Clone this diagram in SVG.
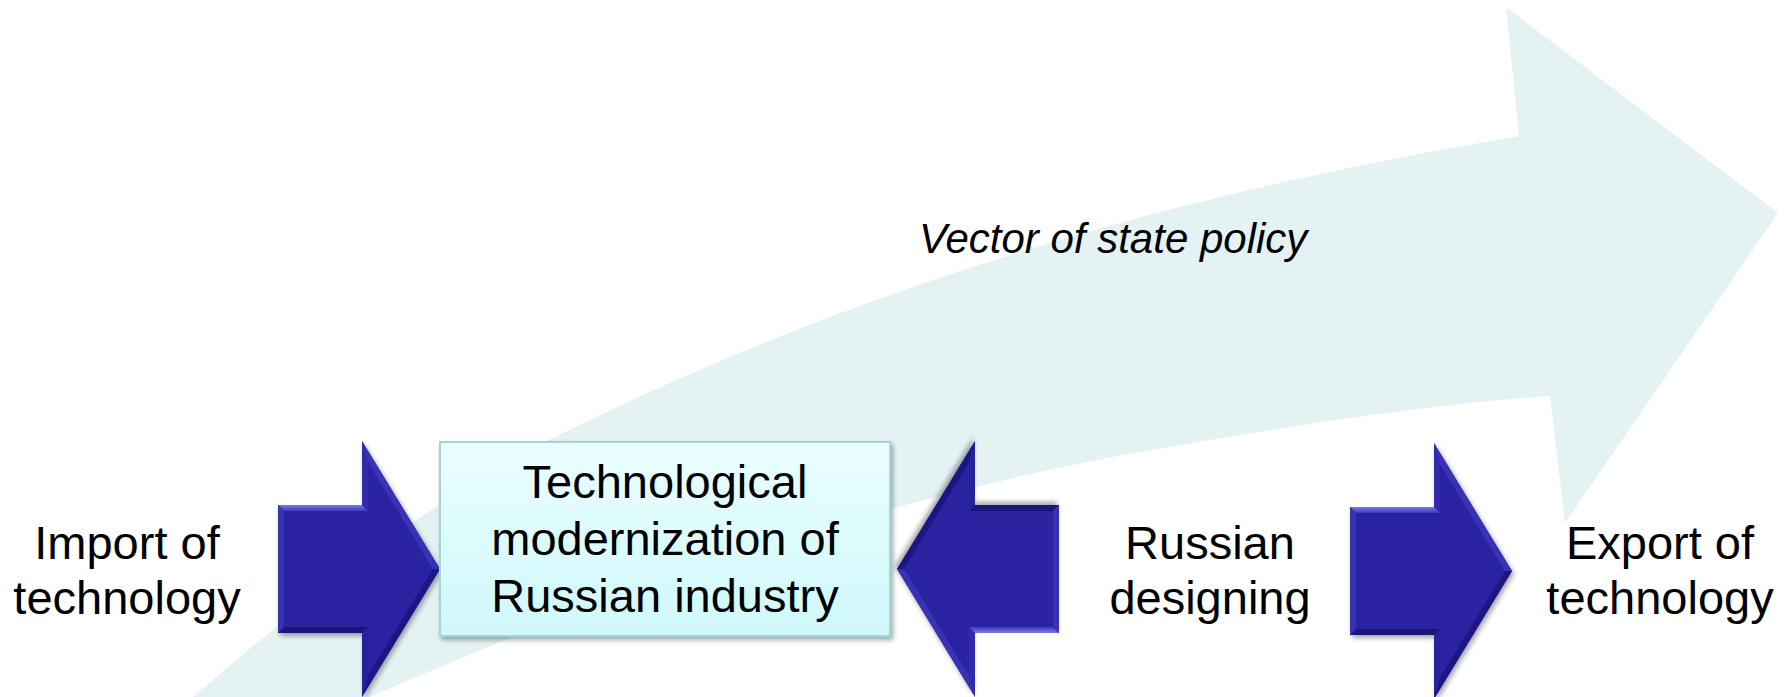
<svg xmlns="http://www.w3.org/2000/svg" xmlns:xlink="http://www.w3.org/1999/xlink" width="1789" height="697" viewBox="0 0 1789 697">
  <style>
    .lbl { font-family: "Liberation Sans", Arial, sans-serif; font-size: 47px; fill: #000; text-anchor: middle; }
    .vec { font-family: "Liberation Sans", Arial, sans-serif; font-size: 42px; font-style: italic; fill: #000; }
  </style>
  <defs>
    <linearGradient id="boxGrad" x1="0" y1="0" x2="0" y2="1">
      <stop offset="0" stop-color="#EBFEFF"/>
      <stop offset="1" stop-color="#CFF8FB"/>
    </linearGradient>
    <linearGradient id="topBevel" x1="0" y1="0" x2="0" y2="1">
      <stop offset="0" stop-color="#7A7AE8"/>
      <stop offset="1" stop-color="#3C36BC"/>
    </linearGradient>
    <filter id="shadow" x="-10%" y="-10%" width="130%" height="130%">
      <feDropShadow dx="2" dy="3" stdDeviation="2.5" flood-color="#000" flood-opacity="0.35"/>
    </filter>
    <g id="blueArrow">
      <polygon points="0,-64 84,-64 84,-128 162,0 84,128 84,64 0,64" fill="#2A22A0"/>
      <polygon points="0,-64 84,-64 90,-58 6,-58" fill="url(#topBevel)"/>
      <polygon points="84,-64 84,-128 90,-106.6 90,-58" fill="#3029AA"/>
      <polygon points="84,-128 162,0 155,0 90,-106.6" fill="#3832B6"/>
      <polygon points="162,0 84,128 90,106.6 155,0" fill="#1E1884"/>
      <polygon points="84,128 84,64 90,58 90,106.6" fill="#28209A"/>
      <polygon points="84,64 0,64 6,58 90,58" fill="#1C167C"/>
      <polygon points="0,64 0,-64 6,-58 6,58" fill="#3731B2"/>
    </g>
  </defs>

  <rect x="0" y="0" width="1789" height="697" fill="#FFFFFF"/>

  <g id="vector-of-state-policy">
    <path d="M193,697 C311.7,594.9 430.3,499.4 549,440 C755.3,336.8 961.7,263.6 1168,210 C1285,179.6 1402,155.9 1519,136 L1506,7 L1778,213 L1565,523 L1550,396 C1422.7,404.9 1295.3,425.4 1168,447 C902,492.2 636,580 370,697 Z" fill="#E5F2F4"/>
    <text class="vec" x="919" y="253">Vector of state policy</text>
  </g>

  <g id="connectors">
    <use xlink:href="#blueArrow" href="#blueArrow" transform="translate(278,569)" filter="url(#shadow)"/>
    <use xlink:href="#blueArrow" href="#blueArrow" transform="translate(1059,569) rotate(180)" filter="url(#shadow)"/>
    <use xlink:href="#blueArrow" href="#blueArrow" transform="translate(1350,571)" filter="url(#shadow)"/>
  </g>

  <g id="import">
    <text class="lbl" x="127" y="559">Import of</text>
    <text class="lbl" x="127" y="614">technology</text>
  </g>

  <g id="modernization">
    <rect x="440" y="442" width="450" height="194" fill="url(#boxGrad)" stroke="#A3D4D7" stroke-width="2" filter="url(#shadow)"/>
    <text class="lbl" x="665" y="498">Technological</text>
    <text class="lbl" x="665" y="555">modernization of</text>
    <text class="lbl" x="665" y="612">Russian industry</text>
  </g>

  <g id="russian-designing">
    <text class="lbl" x="1210" y="559">Russian</text>
    <text class="lbl" x="1210" y="614">designing</text>
  </g>

  <g id="export">
    <text class="lbl" x="1660" y="559">Export of</text>
    <text class="lbl" x="1660" y="614">technology</text>
  </g>
</svg>
